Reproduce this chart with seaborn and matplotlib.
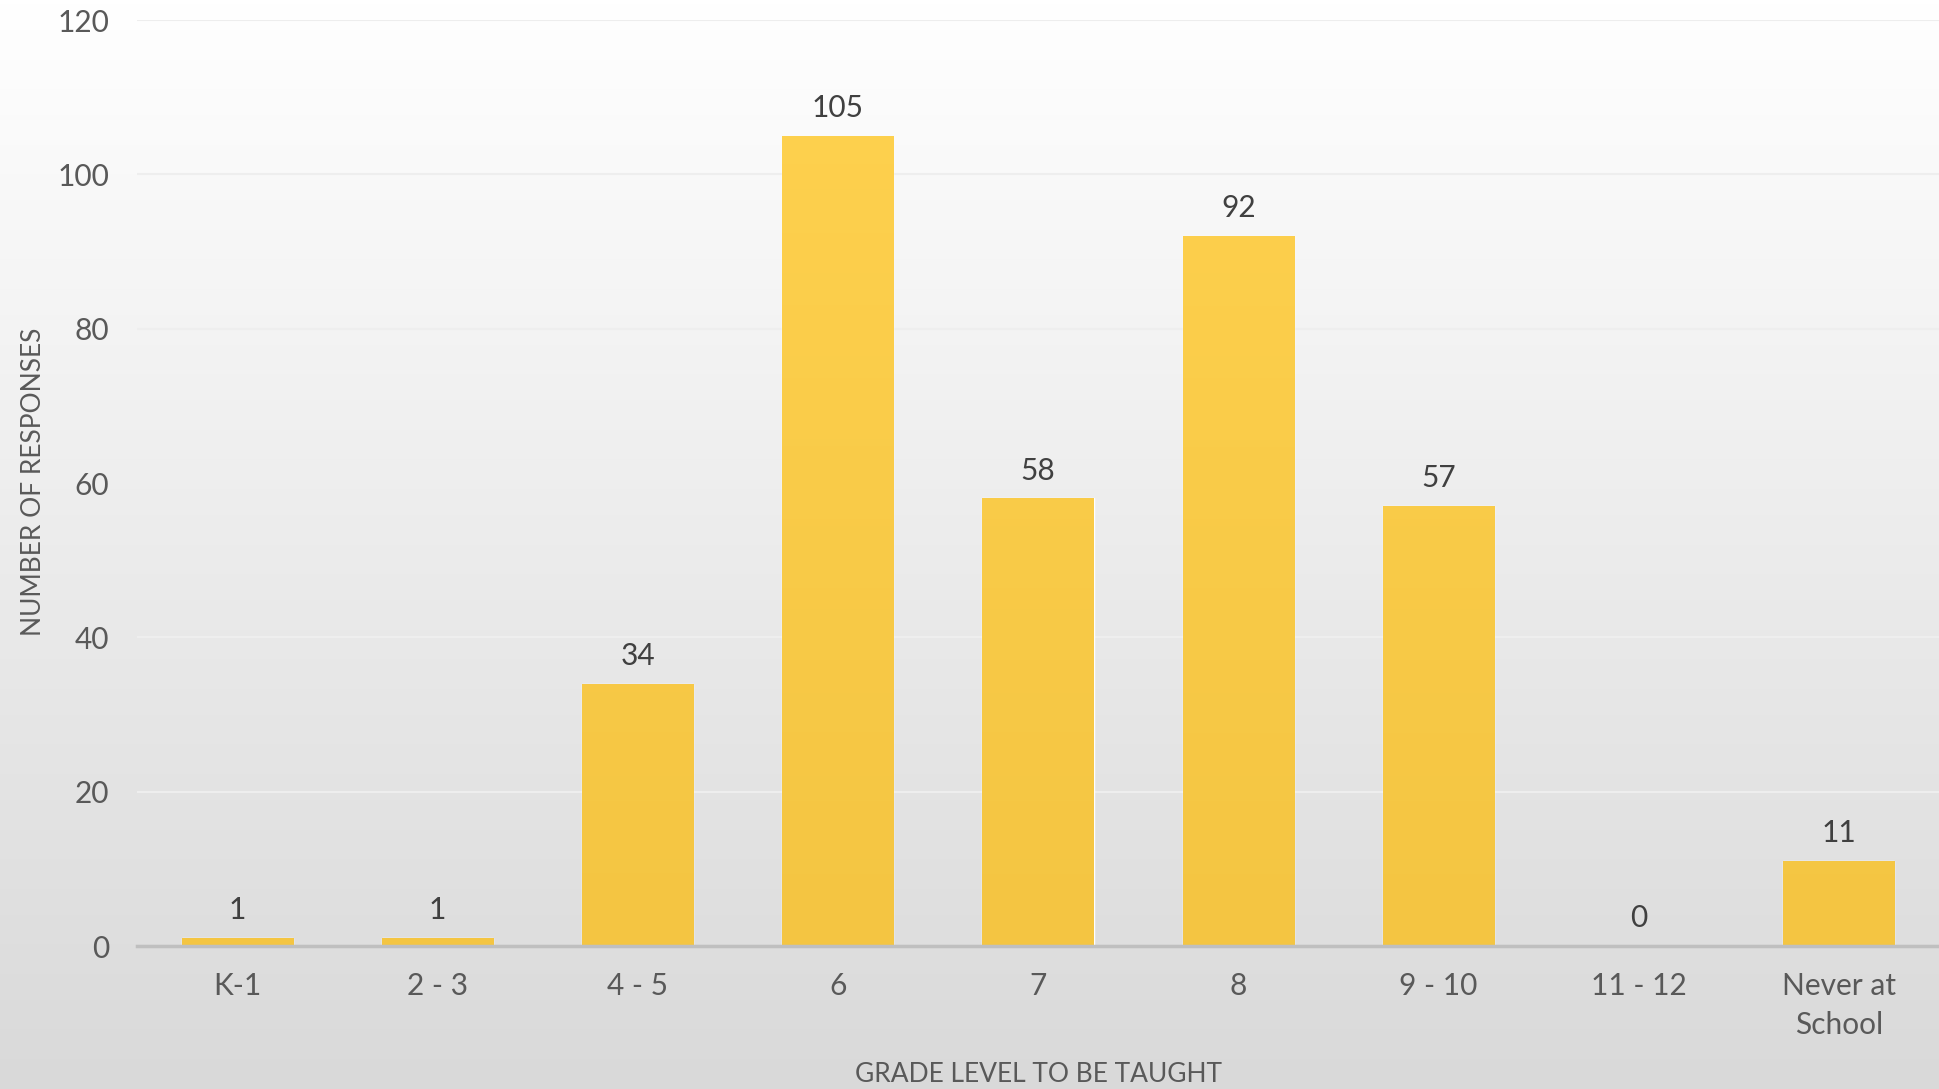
import numpy as np
import matplotlib
matplotlib.use("Agg")
import matplotlib.pyplot as plt
import matplotlib.colors as mcolors
import seaborn as sns

grades = ["K-1", "2 - 3", "4 - 5", "6", "7", "8", "9 - 10", "11 - 12", "Never at\nSchool"]
responses = [1, 1, 34, 105, 58, 92, 57, 0, 11]
y_ticks = [0, 20, 40, 60, 80, 100, 120]

sns.set_theme(style="white")
plt.rcParams["font.family"] = ["Lato", "DejaVu Sans"]

fig = plt.figure(figsize=(19.39, 10.89), dpi=100)

# background gradient, white at top to light grey at bottom
bg = fig.add_axes([0, 0, 1, 1], zorder=-10)
bg_cmap = mcolors.LinearSegmentedColormap.from_list("bg", ["#d9d9d9", "#ffffff"])
bg.imshow(np.linspace(0, 1, 256).reshape(-1, 1), aspect="auto", cmap=bg_cmap,
          origin="lower", extent=[0, 1, 0, 1])
bg.axis("off")

ax = fig.add_axes([0.0707, 0.1313, 0.9293, 0.8503])
ax.patch.set_alpha(0)

sns.barplot(x=grades, y=responses, color="#f8cb47", width=0.555, ax=ax, zorder=2)

# bar gradient over the plot height, clipped to each bar
bar_cmap = mcolors.LinearSegmentedColormap.from_list("bar", ["#f4c542", "#ffd24f"])
grad = np.linspace(0, 1, 256).reshape(-1, 1)
for p in ax.patches:
    im = ax.imshow(grad, aspect="auto", cmap=bar_cmap, origin="lower",
                   extent=[-0.5, len(grades) - 0.5, 0, 120], zorder=2.5)
    im.set_clip_path(p)

ax.bar_label(ax.containers[0], padding=10, fontsize=21.5, color="#404040")

ax.set_xlim(-0.5, len(grades) - 0.5)
ax.set_ylim(0, 120)
ax.set_yticks(y_ticks)
ax.grid(axis="y", color="#eeeeee", linewidth=1.5, zorder=0)
ax.set_axisbelow(True)

for side in ["top", "right", "left"]:
    ax.spines[side].set_visible(False)
ax.spines["bottom"].set_color("#bfbfbf")
ax.spines["bottom"].set_linewidth(2.5)
ax.spines["bottom"].set_zorder(3)

ax.tick_params(axis="x", length=0, pad=19, labelsize=21.5, labelcolor="#595959")
ax.tick_params(axis="y", length=0, pad=20, labelsize=21.5, labelcolor="#595959")
for lbl in ax.get_xticklabels():
    lbl.set_linespacing(1.45)

ax.set_xlabel("GRADE LEVEL TO BE TAUGHT", fontsize=19, color="#595959")
ax.xaxis.set_label_coords(0.5, -0.139)
ax.xaxis.label.set_va("center")
ax.set_ylabel("NUMBER OF RESPONSES", fontsize=19, color="#595959")
ax.yaxis.set_label_coords(-0.0575, 0.501)
ax.yaxis.label.set_va("center")

fig.savefig("out.png", dpi=100)
plt.close(fig)
